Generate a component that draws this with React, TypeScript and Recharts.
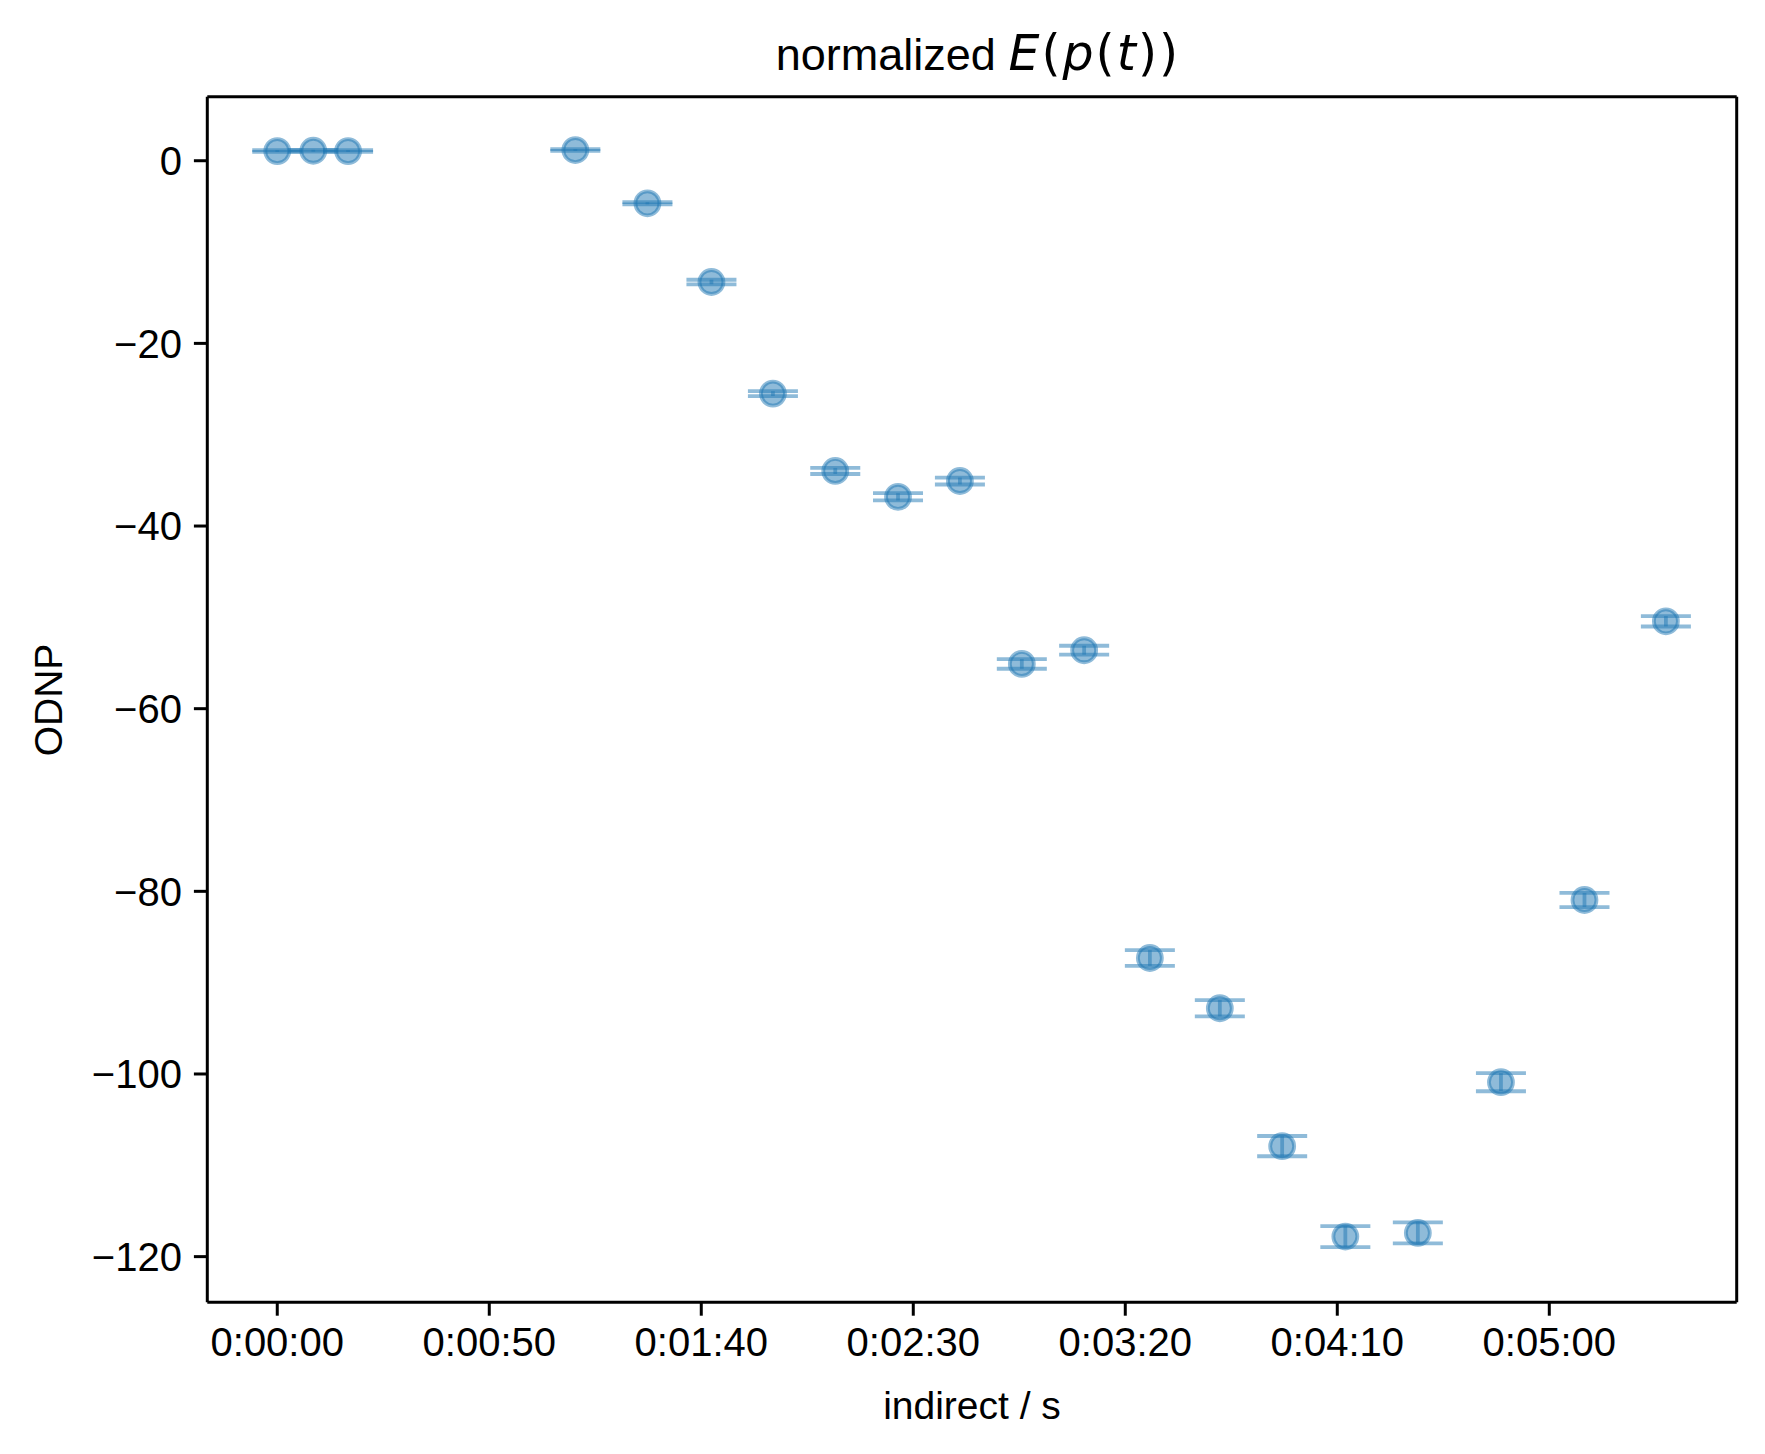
import { ScatterChart, Scatter, XAxis, YAxis, ErrorBar, ReferenceLine, Customized } from 'recharts';

// indirect time (s), normalized enhancement and its error
const times = [0, 8.5, 16.7, 70.3, 87.3, 102.4, 116.9, 131.6, 146.4, 161.0, 175.6, 190.3, 205.8, 222.3, 237.0, 251.9, 269.0, 288.6, 308.3, 327.5];
const enhancement = [1.06, 1.09, 1.06, 1.17, -4.66, -13.28, -25.5, -33.97, -36.8, -35.07, -55.1, -53.6, -87.3, -92.8, -107.9, -117.8, -117.4, -100.9, -80.95, -50.43];
const errors = [0.1, 0.1, 0.1, 0.1, 0.12, 0.25, 0.27, 0.33, 0.4, 0.38, 0.53, 0.49, 0.86, 0.89, 1.11, 1.15, 1.15, 0.99, 0.78, 0.57];

const xTicks = [0, 50, 100, 150, 200, 250, 300];
const yTicks = [-120, -100, -80, -60, -40, -20, 0];

const xDomain = [-16.5, 344.2];
const yDomain = [-125, 7.0];

const data = times.map((t, i) => ({ t, y: enhancement[i], err: errors[i] }));

const FONT = '"Liberation Sans", Arial, sans-serif';
const MATH = '"DejaVu Sans", sans-serif';
const C0 = '#1f77b4';

const pad = (n: number) => String(n).padStart(2, '0');
const fmtTime = (s: number) => {
  const h = Math.floor(s / 3600);
  const m = Math.floor((s % 3600) / 60);
  return `${h}:${pad(m)}:${pad(Math.round(s % 60))}`;
};
const fmtY = (v: number) => String(v).replace('-', '\u2212');

const Dot = (props: any) => (
  <circle
    cx={props.cx}
    cy={props.cy}
    r={12}
    fill={C0}
    fillOpacity={0.5}
    stroke={C0}
    strokeOpacity={0.5}
    strokeWidth={3.8}
  />
);

const Labels = () => (
  <g fontFamily={FONT} fill="#000">
    <text x={978} y={70} fontSize={45} textAnchor="middle">
      <tspan>normalized </tspan>
      <tspan fontFamily={MATH} fontSize={49} letterSpacing={2}>
        <tspan fontStyle="italic">E</tspan>
        <tspan>(</tspan>
        <tspan fontStyle="italic">p</tspan>
        <tspan>(</tspan>
        <tspan fontStyle="italic">t</tspan>
        <tspan>))</tspan>
      </tspan>
    </text>
    <text x={972} y={1419} fontSize={39} textAnchor="middle">indirect / s</text>
    <text x={62} y={700} fontSize={39} textAnchor="middle" transform="rotate(-90 62 700)">ODNP</text>
  </g>
);

export default function App() {
  const tickStyle = { fontSize: 40, fontFamily: FONT, fill: '#000' };
  return (
    <div style={{ position: 'absolute', left: 0, top: 0, background: '#fff' }}>
      <ScatterChart width={1765} height={1454} margin={{ top: 96.8, right: 28.3, bottom: 51.7, left: 57.3 }}>
        <XAxis
          dataKey="t"
          type="number"
          domain={xDomain}
          allowDataOverflow
          ticks={xTicks}
          interval={0}
          tickFormatter={fmtTime}
          height={100}
          tickSize={13.4}
          tickMargin={12}
          tick={tickStyle}
          stroke="#000"
          strokeWidth={3}
          tickLine={{ stroke: '#000', strokeWidth: 3 }}
        />
        <YAxis
          dataKey="y"
          type="number"
          domain={yDomain}
          allowDataOverflow
          ticks={yTicks}
          interval={0}
          tickFormatter={fmtY}
          width={150}
          tickSize={13.4}
          tickMargin={12}
          tick={tickStyle}
          stroke="#000"
          strokeWidth={3}
          tickLine={{ stroke: '#000', strokeWidth: 3 }}
        />
        {/* top and right spines */}
        <ReferenceLine y={yDomain[1]} stroke="#000" strokeWidth={3} ifOverflow="visible" />
        <ReferenceLine x={xDomain[1]} stroke="#000" strokeWidth={3} ifOverflow="visible" />
        <Scatter data={data} shape={Dot} isAnimationActive={false}>
          <ErrorBar dataKey="err" direction="y" width={25} stroke="rgba(31,119,180,0.5)" strokeWidth={3.8} />
        </Scatter>
        <Customized component={Labels} />
      </ScatterChart>
    </div>
  );
}
